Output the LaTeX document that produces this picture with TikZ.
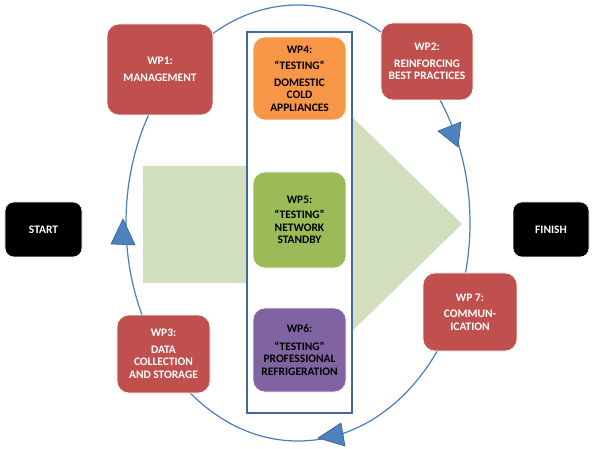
\documentclass[tikz,border=0pt]{standalone}
\usepackage{fontspec}
\setmainfont{Carlito}
\definecolor{wpred}{HTML}{C0504D}
\definecolor{wporange}{HTML}{F79646}
\definecolor{wpgreen}{HTML}{9BBB59}
\definecolor{wppurple}{HTML}{8064A2}
\definecolor{arrowgreen}{HTML}{D2DFBE}
\definecolor{ringblue}{HTML}{4A7EBB}
\definecolor{frameblue}{HTML}{41699A}
\definecolor{tripfill}{HTML}{4F81BD}
\definecolor{tripdraw}{HTML}{385D8A}
\tikzset{
  wpbox/.style={rounded corners=12bp, align=center, inner sep=0pt,
    font=\fontsize{11.5}{12.6}\selectfont\bfseries, draw=white, line width=0.6bp},
  redbox/.style={wpbox, fill=wpred, text=white},
  blackbox/.style={wpbox, fill=black, text=white, rounded corners=9bp},
  ring/.style={draw=ringblue, line width=1.2bp},
  frame/.style={draw=frameblue, fill=white, line width=1.5bp},
  tri/.style={fill=tripfill, draw=tripdraw, line width=0.6bp, line join=miter},
}
\begin{document}
\begin{tikzpicture}[x=1bp,y=-1bp]
\useasboundingbox (0,0) rectangle (599,449);
% ring
\draw[ring] (298,223) ellipse [x radius=172, y radius=218];
% big green arrow
\fill[arrowgreen] (143,166) -- (300,166) -- (300,66) -- (462,224) -- (300,382) -- (300,283) -- (143,283) -- cycle;
% frame
\node[frame, minimum width=105bp, minimum height=381bp, inner sep=0pt] (frame) at (299.5,222.5) {};
% inner boxes
\node[wpbox, fill=wporange, text=black, minimum width=93bp, minimum height=83bp] (wp4) at (299.5,78.5)
  {WP4:\\[4pt]“TESTING”\\[4pt]DOMESTIC\\COLD\\APPLIANCES};
\node[wpbox, fill=wpgreen, text=black, minimum width=93bp, minimum height=96bp] (wp5) at (299.5,220)
  {WP5:\\[3pt]“TESTING”\\NETWORK\\STANDBY};
\node[wpbox, fill=wppurple, text=black, minimum width=93bp, minimum height=84bp] (wp6) at (299.5,350)
  {WP6:\\[5pt]“TESTING”\\PROFESSIONAL\\REFRIGERATION};
% red boxes
\node[redbox, minimum width=106bp, minimum height=91bp] (wp1) at (160,69.5)
  {WP1:\\[4pt]MANAGEMENT};
\node[redbox, minimum width=92bp, minimum height=77bp] (wp2) at (427,61.5)
  {WP2:\\[4pt]REINFORCING\\BEST PRACTICES};
\node[redbox, minimum width=93bp, minimum height=78bp] (wp3) at (163.5,354)
  {WP3:\\[4pt]DATA\\COLLECTION\\AND STORAGE};
\node[redbox, minimum width=94bp, minimum height=78bp] (wp7) at (470,312)
  {WP 7:\\[4pt]COMMUN-\\ICATION};
% start / finish
\node[blackbox, minimum width=77bp, minimum height=55bp] (start) at (43.5,229.5) {START};
\node[blackbox, minimum width=76bp, minimum height=55bp] (finish) at (551,229.5) {FINISH};
% direction triangles on the ring
\draw[tri] (458,147) -- (438,131) -- (461,122) -- cycle;
\draw[tri] (123,219) -- (111,244) -- (135,245) -- cycle;
\draw[tri] (318,438) -- (341,423) -- (345,446) -- cycle;
\end{tikzpicture}
\end{document}
